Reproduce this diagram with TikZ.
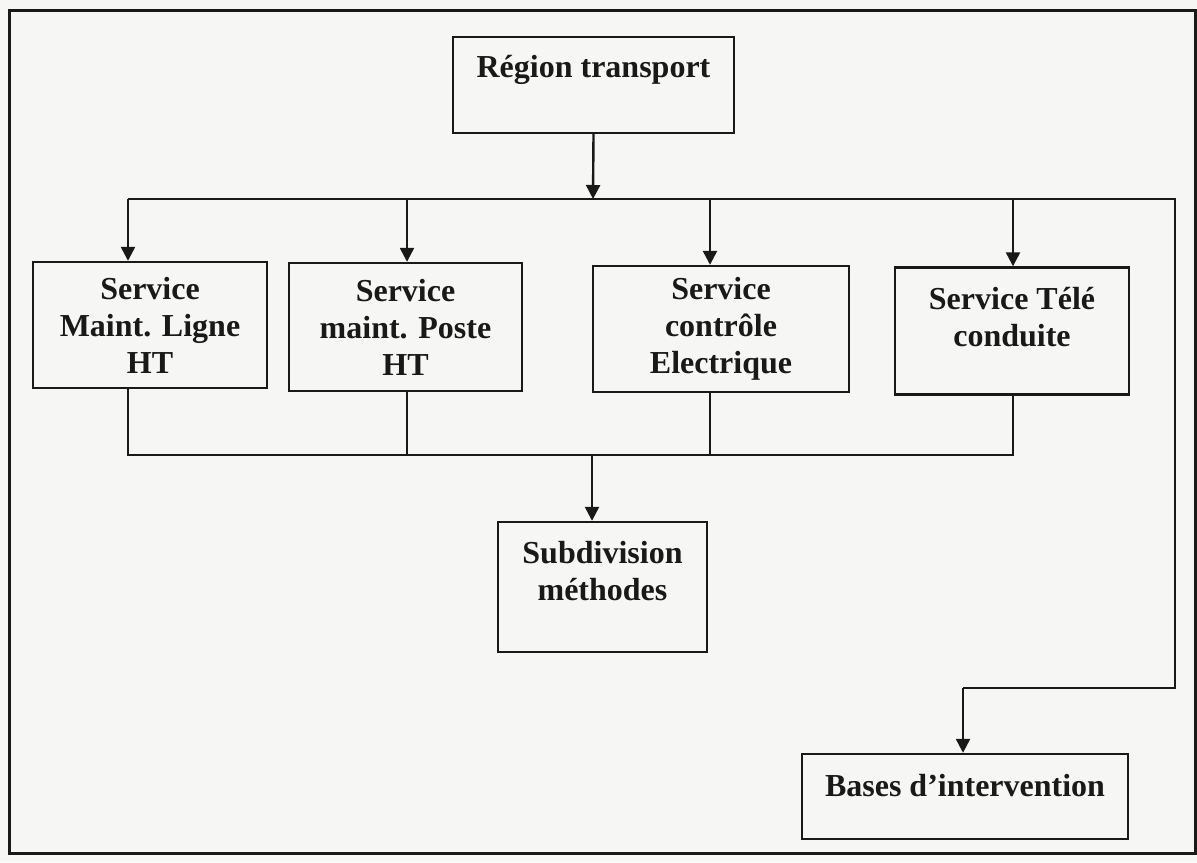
\documentclass[tikz,border=0pt]{standalone}
\usepackage{fontspec}
\setmainfont{Liberation Serif}
\usetikzlibrary{arrows.meta}
\definecolor{paper}{RGB}{246,246,244}
\definecolor{ink}{RGB}{25,25,25}
\begin{document}
\begin{tikzpicture}[x=0.5pt,y=-0.5pt,
  box/.style={draw=ink,line width=1.2pt,inner sep=0pt,align=center,
    font=\fontsize{16}{18.5}\selectfont\bfseries,text=ink},
  link/.style={draw=ink,line width=1.2pt},
  arr/.style={link,-{Triangle[length=7pt,width=7pt]}}]
\useasboundingbox (0,0) rectangle (1197,862);
\fill[paper] (0,0) rectangle (1197,862);
% outer frame
\draw[ink,line width=1.5pt] (9,10) rectangle (1195,853);

% boxes
\node[box,minimum width=140.5pt,minimum height=48pt,text depth=18.5pt]
  (reg) at (593.5,85) {Région transport};
\node[box,minimum width=117pt,minimum height=63pt] (s1) at (150,325)
  {Service\\Maint. Ligne\\HT};
\node[box,minimum width=116.5pt,minimum height=64pt] (s2) at (405.5,327)
  {Service\\maint. Poste\\HT};
\node[box,minimum width=128pt,minimum height=63pt] (s3) at (721,329)
  {Service\\contrôle\\Electrique};
\node[box,minimum width=117pt,minimum height=63.5pt,text depth=14pt]
  (s4) at (1012,331) {Service Télé\\conduite};
\node[box,minimum width=104.5pt,minimum height=65pt,text depth=16pt]
  (sub) at (602.5,587) {Subdivision\\méthodes};
\node[box,minimum width=163pt,minimum height=42.5pt,text depth=11pt]
  (bases) at (965,796.5) {Bases d’intervention};

% upper distribution bus and its drop points
\coordinate (top) at (593,199);
\coordinate (a1) at (128,199);
\coordinate (a2) at (407,199);
\coordinate (a3) at (710,199);
\coordinate (a4) at (1013,199);
\coordinate (tr) at (1175,199);
\coordinate (br) at (1175,688);
\coordinate (bb) at (963,688);
\draw[arr] (reg.south) -- (top);
\draw[link] (a1) -- (tr) -- (br) -- (bb);
\draw[arr] (bb) -- (bases.north -| bb);
\draw[arr] (a1) -- (s1.north -| a1);
\draw[arr] (a2) -- (s2.north -| a2);
\draw[arr] (a3) -- (s3.north -| a3);
\draw[arr] (a4) -- (s4.north -| a4);

% lower collecting bus
\coordinate (b1) at (128,455);
\coordinate (b2) at (407,455);
\coordinate (b3) at (710,455);
\coordinate (b4) at (1013,455);
\coordinate (lm) at (592,455);
\draw[link] (s1.south -| b1) -- (b1) -- (b4) -- (s4.south -| b4);
\draw[link] (s2.south -| b2) -- (b2);
\draw[link] (s3.south -| b3) -- (b3);
\draw[arr] (lm) -- (sub.north -| lm);
\end{tikzpicture}
\end{document}
